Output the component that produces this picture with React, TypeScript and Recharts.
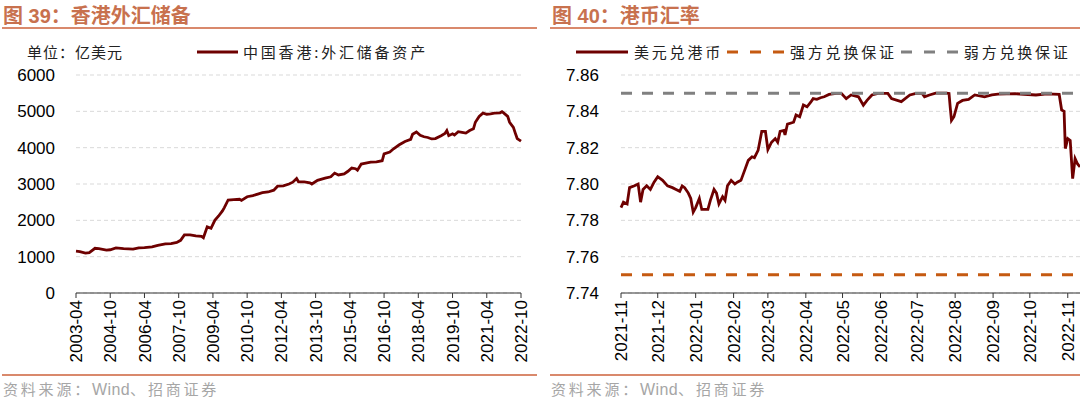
import React from 'react'
import { LineChart, Line, XAxis, YAxis, CartesianGrid } from 'recharts'

// 图39 香港外汇储备 (亿美元), monthly readings
const reserveDates = [
  '2003-04', '2003-06', '2003-09', '2003-11', '2004-02', '2004-04', '2004-08', '2004-10',
  '2005-01', '2005-05', '2005-10', '2006-01', '2006-04', '2006-08', '2006-11', '2007-03',
  '2007-06', '2007-09', '2007-11', '2008-01', '2008-04', '2008-07', '2008-10', '2008-11',
  '2009-01', '2009-03', '2009-05', '2009-07', '2009-09', '2009-10', '2009-12', '2010-03',
  '2010-06', '2010-07', '2010-10', '2011-01', '2011-04', '2011-06', '2011-09', '2011-12',
  '2012-02', '2012-05', '2012-08', '2012-10', '2012-12', '2013-01', '2013-04', '2013-07',
  '2013-08', '2013-11', '2014-03', '2014-06', '2014-08', '2014-10', '2015-01', '2015-03',
  '2015-05', '2015-07', '2015-08', '2015-10', '2016-01', '2016-03', '2016-06', '2016-09',
  '2016-10', '2017-01', '2017-03', '2017-06', '2017-09', '2017-12', '2018-01', '2018-03',
  '2018-05', '2018-07', '2018-09', '2018-11', '2019-01', '2019-04', '2019-06', '2019-07',
  '2019-08', '2019-10', '2019-11', '2020-01', '2020-03', '2020-05', '2020-07', '2020-09',
  '2020-10', '2020-12', '2021-02', '2021-04', '2021-06', '2021-08', '2021-11', '2021-12',
  '2022-01', '2022-03', '2022-04', '2022-06', '2022-07', '2022-08', '2022-10',
]
const reserveValues = [
  1150, 1140, 1100, 1110, 1230, 1220, 1180, 1190,
  1240, 1220, 1210, 1240, 1250, 1270, 1310, 1350,
  1360, 1390, 1450, 1600, 1600, 1570, 1560, 1520,
  1820, 1780, 2000, 2120, 2260, 2350, 2560, 2570,
  2580, 2550, 2650, 2680, 2730, 2760, 2780, 2830,
  2940, 2950, 3000, 3050, 3150, 3060, 3060, 3030,
  3000, 3100, 3160, 3200, 3300, 3250, 3280, 3350,
  3440, 3420, 3380, 3550, 3580, 3600, 3610, 3640,
  3830, 3880, 3970, 4080, 4170, 4230, 4370, 4430,
  4340, 4300, 4280, 4240, 4250, 4330, 4390, 4470,
  4330, 4380, 4350, 4440, 4420, 4400, 4470, 4520,
  4700, 4860, 4950, 4920, 4930, 4950, 4960, 4990,
  4950, 4860, 4700, 4560, 4400, 4250, 4180,
]
const reserveTicks = [
  '2003-04', '2004-10', '2006-04', '2007-10', '2009-04', '2010-10', '2012-04',
  '2013-10', '2015-04', '2016-10', '2018-04', '2019-10', '2021-04', '2022-10',
]
const reserveYTicks = [0, 1000, 2000, 3000, 4000, 5000, 6000]

// 图40 港币汇率, daily readings
const rateDates = [
  '2021-11-01', '2021-11-03', '2021-11-06', '2021-11-08', '2021-11-12', '2021-11-15', '2021-11-17',
  '2021-11-19', '2021-11-22', '2021-11-25', '2021-11-28', '2021-12-01', '2021-12-05', '2021-12-09',
  '2021-12-13', '2021-12-16', '2021-12-19', '2021-12-21', '2021-12-23', '2021-12-26', '2021-12-28',
  '2021-12-30', '2022-01-01', '2022-01-04', '2022-01-06', '2022-01-11', '2022-01-13', '2022-01-16',
  '2022-01-18', '2022-01-20', '2022-01-23', '2022-01-25', '2022-01-27', '2022-01-30', '2022-02-02',
  '2022-02-04', '2022-02-07', '2022-02-10', '2022-02-13', '2022-02-16', '2022-02-18', '2022-02-21',
  '2022-02-24', '2022-02-27', '2022-03-01', '2022-03-04', '2022-03-07', '2022-03-09', '2022-03-11',
  '2022-03-14', '2022-03-15', '2022-03-17', '2022-03-22', '2022-03-24', '2022-03-27', '2022-03-30',
  '2022-04-02', '2022-04-05', '2022-04-07', '2022-04-10', '2022-04-13', '2022-04-16', '2022-04-20',
  '2022-04-26', '2022-04-30', '2022-05-04', '2022-05-08', '2022-05-14', '2022-05-18', '2022-05-21',
  '2022-05-25', '2022-05-30', '2022-06-07', '2022-06-10', '2022-06-18', '2022-06-25', '2022-06-30',
  '2022-07-05', '2022-07-07', '2022-07-11', '2022-07-16', '2022-07-25', '2022-07-27', '2022-07-28',
  '2022-07-29', '2022-07-31', '2022-08-03', '2022-08-07', '2022-08-12', '2022-08-17', '2022-08-25',
  '2022-08-31', '2022-09-05', '2022-09-19', '2022-10-06', '2022-10-15', '2022-10-25', '2022-10-27',
  '2022-10-29', '2022-10-30', '2022-11-01', '2022-11-03', '2022-11-05', '2022-11-07', '2022-11-09',
  '2022-11-11',
]
const rateValues = [
  7.787, 7.790, 7.789, 7.798, 7.799, 7.800, 7.790,
  7.797, 7.799, 7.797, 7.801, 7.804, 7.802, 7.799,
  7.798, 7.797, 7.796, 7.799, 7.798, 7.795, 7.792,
  7.7845, 7.787, 7.792, 7.786, 7.786, 7.791, 7.797,
  7.795, 7.789, 7.793, 7.791, 7.799, 7.802, 7.800,
  7.801, 7.802, 7.8075, 7.813, 7.815, 7.8145, 7.8185,
  7.829, 7.829, 7.819, 7.823, 7.825, 7.823, 7.829,
  7.8295, 7.827, 7.833, 7.834, 7.838, 7.837, 7.8435,
  7.8425, 7.845, 7.847, 7.8466, 7.8475, 7.848, 7.8493,
  7.8499, 7.8499, 7.847, 7.849, 7.848, 7.8434, 7.846,
  7.849, 7.8499, 7.8499, 7.847, 7.8453, 7.849, 7.8499,
  7.8499, 7.848, 7.849, 7.85, 7.85, 7.8498, 7.842,
  7.835, 7.837, 7.8444, 7.846, 7.8466, 7.849, 7.848,
  7.849, 7.8495, 7.8497, 7.849, 7.8496, 7.8493, 7.8407,
  7.840, 7.8195, 7.825, 7.824, 7.803, 7.814, 7.811,
  7.8094,
]
const rateTicks = [
  '2021-11', '2021-12', '2022-01', '2022-02', '2022-03', '2022-04', '2022-05',
  '2022-06', '2022-07', '2022-08', '2022-09', '2022-10', '2022-11',
]
const rateYTicks = [7.74, 7.76, 7.78, 7.8, 7.82, 7.84, 7.86]
const strongSide = 7.75
const weakSide = 7.85

const TITLE = '#C8714E'
const RULE = '#D9896C'
const MAROON = '#6E0000'
const ORANGE = '#C55A11'
const GREY = '#808080'
const NUM_FONT = "'Liberation Sans', Arial, sans-serif"
const CJK_FONT = "'Noto Sans CJK SC', sans-serif"

const monthIndex = (s: string) => {
  const [y, m] = s.split('-').map(Number)
  return (y - 2003) * 12 + (m - 4)
}
const monthLabel = (i: number) => {
  const total = 2003 * 12 + 3 + i
  const y = Math.floor(total / 12)
  const m = (total % 12) + 1
  return `${y}-${String(m).padStart(2, '0')}`
}
const rateStart = Date.UTC(2021, 10, 1)
const dayIndex = (s: string) => {
  const [y, m, d] = s.split('-').map(Number)
  return Math.round((Date.UTC(y, m - 1, d || 1) - rateStart) / 86400000)
}
const dayLabel = (t: number) => {
  const dt = new Date(rateStart + t * 86400000)
  return `${dt.getUTCFullYear()}-${String(dt.getUTCMonth() + 1).padStart(2, '0')}`
}

const reserveData = reserveDates.map((d, i) => ({ m: monthIndex(d), value: reserveValues[i] }))
const rateData = rateDates.map((d, i) => ({
  t: dayIndex(d),
  rate: rateValues[i],
  strong: strongSide,
  weak: weakSide,
}))

const RotatedTick = ({ x, y, payload, fmt }: any) => (
  <text
    x={x}
    y={y}
    transform={`rotate(-90 ${x} ${y})`}
    textAnchor="end"
    dy="0.36em"
    fontSize={17}
    fontFamily={NUM_FONT}
    fill="#000"
  >
    {fmt(payload.value)}
  </text>
)

const LegendLine = ({ color, dash, width, gap = 0 }: { color: string; dash?: string; width: number; gap?: number }) => (
  <svg width={width} height={10} style={{ display: 'block', marginLeft: gap }}>
    <line x1={0} y1={5} x2={width} y2={5} stroke={color} strokeWidth={3} strokeDasharray={dash} />
  </svg>
)

const legendText: React.CSSProperties = {
  fontFamily: CJK_FONT,
  fontSize: 15,
  letterSpacing: 2.8,
  color: '#222',
  whiteSpace: 'nowrap',
}

const sourceStyle: React.CSSProperties = {
  position: 'absolute',
  top: 378,
  fontFamily: CJK_FONT,
  fontSize: 15,
  letterSpacing: 2.8,
  color: '#A6A6A6',
  whiteSpace: 'nowrap',
}

const titleStyle: React.CSSProperties = {
  position: 'absolute',
  top: 0,
  fontFamily: `'Liberation Sans', ${CJK_FONT}`,
  fontWeight: 700,
  fontSize: 20,
  color: TITLE,
  whiteSpace: 'nowrap',
}

const Source = ({ left }: { left: number }) => (
  <div style={{ ...sourceStyle, left }}>
    资料来源：<span style={{ fontFamily: NUM_FONT, fontSize: 16, letterSpacing: 0.4 }}>Wind</span>、招商证券
  </div>
)

export default function App() {
  return (
    <div style={{ position: 'absolute', left: 0, top: 0, width: 1080, height: 399, background: '#fff', overflow: 'hidden' }}>
      {/* titles */}
      <div style={{ ...titleStyle, left: 3 }}>图 39：香港外汇储备</div>
      <div style={{ ...titleStyle, left: 552 }}>图 40：港币汇率</div>
      <div style={{ position: 'absolute', left: 2, top: 27, width: 535, height: 2, background: RULE }} />
      <div style={{ position: 'absolute', left: 550, top: 27, width: 530, height: 2, background: RULE }} />

      {/* left legend */}
      <div style={{ ...legendText, position: 'absolute', left: 27, top: 41, letterSpacing: 1 }}>单位：亿美元</div>
      <div style={{ position: 'absolute', left: 197, top: 41, display: 'flex', alignItems: 'center' }}>
        <LegendLine color={MAROON} width={41} />
        <span style={{ ...legendText, marginLeft: 5 }}>中国香港:外汇储备资产</span>
      </div>

      {/* right legend */}
      <div style={{ position: 'absolute', left: 576, top: 41, display: 'flex', alignItems: 'center' }}>
        <LegendLine color={MAROON} width={52} />
        <span style={{ ...legendText, marginLeft: 6 }}>美元兑港币</span>
        <LegendLine color={ORANGE} width={57} dash="11 12" gap={4} />
        <span style={{ ...legendText, marginLeft: 6 }}>强方兑换保证</span>
        <LegendLine color={GREY} width={57} dash="11 12" gap={4} />
        <span style={{ ...legendText, marginLeft: 6 }}>弱方兑换保证</span>
      </div>

      {/* left chart */}
      <div style={{ position: 'absolute', left: 0, top: 0 }}>
        <LineChart width={540} height={380} data={reserveData} margin={{ top: 75, right: 19, bottom: 7, left: 16 }}>
          <CartesianGrid vertical={false} stroke="#d9d9d9" strokeDasharray="4 3" />
          <XAxis
            dataKey="m"
            type="number"
            domain={[0, monthIndex(reserveTicks[reserveTicks.length - 1])]}
            ticks={reserveTicks.map(monthIndex)}
            interval={0}
            height={80}
            tickSize={5}
            tickMargin={2}
            axisLine={{ stroke: '#333' }}
            tickLine={{ stroke: '#333' }}
            tick={<RotatedTick fmt={monthLabel} />}
          />
          <YAxis
            domain={[0, 6000]}
            ticks={reserveYTicks}
            interval={0}
            width={60}
            axisLine={false}
            tickLine={false}
            tickSize={0}
            tickMargin={21}
            tick={{ fontSize: 17, fill: '#000', fontFamily: NUM_FONT }}
          />
          <Line
            dataKey="value"
            stroke={MAROON}
            strokeWidth={2.8}
            dot={false}
            isAnimationActive={false}
          />
        </LineChart>
      </div>

      {/* right chart */}
      <div style={{ position: 'absolute', left: 540, top: 0 }}>
        <LineChart width={540} height={380} data={rateData} margin={{ top: 75, right: 0, bottom: 7, left: 21 }}>
          <CartesianGrid vertical={false} stroke="#d9d9d9" strokeDasharray="4 3" />
          <XAxis
            dataKey="t"
            type="number"
            domain={[0, 'dataMax']}
            ticks={rateTicks.map(dayIndex)}
            interval={0}
            height={80}
            tickSize={5}
            tickMargin={2}
            axisLine={{ stroke: '#333' }}
            tickLine={{ stroke: '#333' }}
            tick={<RotatedTick fmt={dayLabel} />}
          />
          <YAxis
            domain={[7.74, 7.86]}
            ticks={rateYTicks}
            interval={0}
            width={60}
            axisLine={false}
            tickLine={false}
            tickSize={0}
            tickMargin={22}
            tickFormatter={(v: number) => v.toFixed(2)}
            tick={{ fontSize: 17, fill: '#000', fontFamily: NUM_FONT }}
          />
          <Line dataKey="rate" stroke={MAROON} strokeWidth={2.8} dot={false} isAnimationActive={false} />
          <Line dataKey="strong" stroke={ORANGE} strokeWidth={3} strokeDasharray="11 10" dot={false} isAnimationActive={false} />
          <Line dataKey="weak" stroke={GREY} strokeWidth={3} strokeDasharray="11 10" dot={false} isAnimationActive={false} />
        </LineChart>
      </div>

      {/* bottom rules and sources */}
      <div style={{ position: 'absolute', left: 2, top: 374, width: 535, height: 2, background: RULE }} />
      <div style={{ position: 'absolute', left: 550, top: 374, width: 530, height: 2, background: RULE }} />
      <Source left={3} />
      <Source left={551} />
    </div>
  )
}
